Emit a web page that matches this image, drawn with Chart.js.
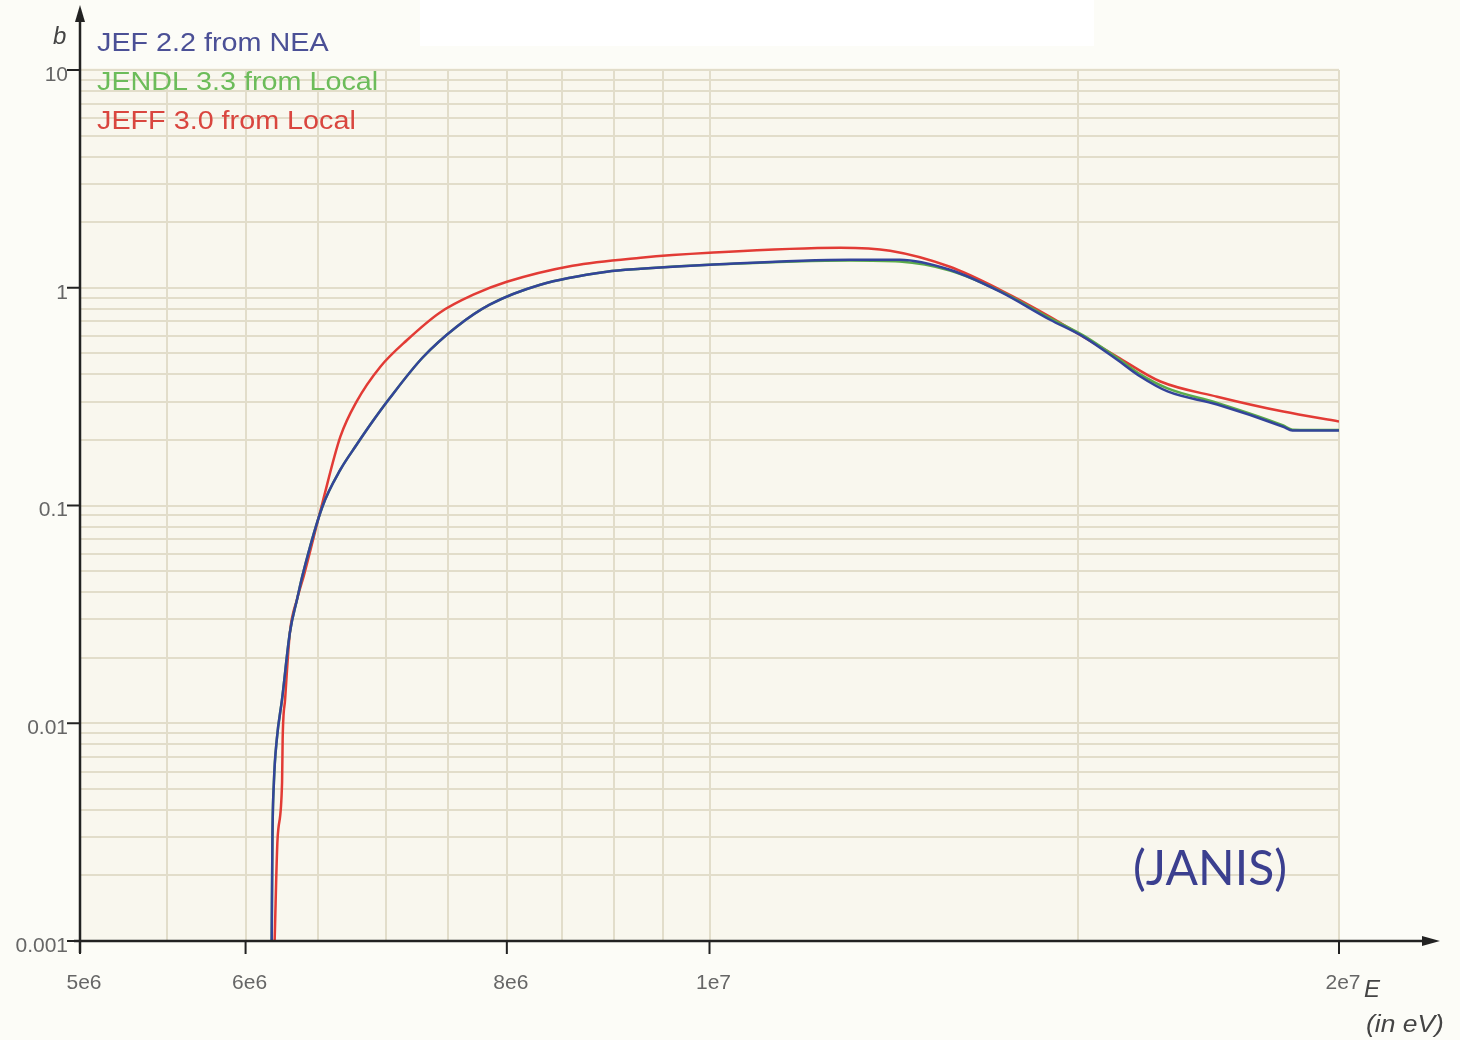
<!DOCTYPE html>
<html>
<head>
<meta charset="utf-8">
<script src="https://cdn.jsdelivr.net/npm/chart.js@4.4.1/dist/chart.umd.min.js"></script>
<style>
  body { margin: 0; background: #fcfcf7; }
  #wrap { position: relative; width: 1460px; height: 1040px; }
  #patch { position: absolute; left: 420px; top: 0; width: 674px; height: 46px; background: #ffffff; }
  #chart { position: absolute; left: 0; top: 0; }
</style>
</head>
<body>
<div id="wrap">
  <div id="patch"></div>
  <canvas id="chart" width="1460" height="1040"></canvas>
</div>
<script>
// energies (eV) and cross sections (b)
const jefE = [6.175e6, 6.18e6, 6.19e6, 6.21e6, 6.246e6, 6.30e6, 6.35e6, 6.39e6, 6.53e6, 6.66e6, 6.78e6, 6.90e6, 7.03e6,
  7.29e6, 7.57e6, 7.85e6, 8.30e6, 8.93e6, 9.27e6, 1.0e7, 1.167e7, 1.233e7, 1.303e7, 1.377e7,
  1.455e7, 1.509e7, 1.566e7, 1.607e7, 1.656e7, 1.749e7, 1.881e7, 1.90e7, 2.0e7];
const jefV = [0.001, 0.00294, 0.00536, 0.00845, 0.0129, 0.0261, 0.0371, 0.0483, 0.099, 0.146, 0.190, 0.243, 0.310,
  0.477, 0.662, 0.836, 1.032, 1.184, 1.222, 1.275, 1.344, 1.344, 1.209, 0.959,
  0.713, 0.596, 0.468, 0.391, 0.334, 0.291, 0.230, 0.221, 0.221];

const jendlE = jefE;
const jendlV = [0.001, 0.00294, 0.00536, 0.00845, 0.0129, 0.0261, 0.0371, 0.0483, 0.099, 0.146, 0.190, 0.243, 0.310,
  0.477, 0.662, 0.836, 1.032, 1.184, 1.222, 1.275, 1.335, 1.32, 1.20, 0.965,
  0.725, 0.605, 0.478, 0.40, 0.345, 0.296, 0.233, 0.223, 0.222];

const jeffE = [6.195e6, 6.215e6, 6.246e6, 6.25e6, 6.267e6, 6.30e6, 6.35e6, 6.40e6, 6.53e6, 6.66e6, 6.78e6, 6.96e6, 7.17e6,
  7.43e6, 7.71e6, 8.0e6, 8.60e6, 9.27e6, 1.0e7, 1.155e7, 1.22e7, 1.303e7, 1.377e7,
  1.455e7, 1.509e7, 1.566e7, 1.643e7, 1.749e7, 1.881e7, 2.0e7];
const jeffV = [0.001, 0.00294, 0.00536, 0.00845, 0.0129, 0.0261, 0.0371, 0.0483, 0.103, 0.207, 0.300, 0.434, 0.577,
  0.768, 0.929, 1.065, 1.262, 1.373, 1.447, 1.526, 1.478, 1.248, 0.979,
  0.736, 0.596, 0.483, 0.371, 0.316, 0.270, 0.243];

const seriesNames = ['JEF 2.2 from NEA', 'JENDL 3.3 from Local', 'JEFF 3.0 from Local'];

// grid lines and labelled ticks
const xGrid = [5e6, 5.5e6, 6e6, 6.5e6, 7e6, 7.5e6, 8e6, 8.5e6, 9e6, 9.5e6, 1e7, 1.5e7, 2e7];
const xTickLabels = { 5e6: '5e6', 6e6: '6e6', 8e6: '8e6', 1e7: '1e7', 2e7: '2e7' };
const yDecades = [0.001, 0.01, 0.1, 1, 10];
const yTickLabels = ['0.001', '0.01', '0.1', '1', '10'];
const yGrid = [];
yDecades.forEach(d => {
  for (let m = 1; m <= 9; m++) {
    if (d === 10 && m > 1) break;
    yGrid.push(+(d * m).toPrecision(3));
  }
});

function pts(E, V) {
  return E.map((e, i) => ({ x: e, y: V[i] }));
}

const decor = {
  id: 'decor',
  beforeDraw(chart) {
    const { ctx, chartArea: a } = chart;
    ctx.save();
    ctx.fillStyle = '#f9f7ee';
    ctx.fillRect(a.left, a.top - 2, a.right - a.left, a.bottom - a.top + 2);
    ctx.restore();
  },
  afterDraw(chart) {
    const { ctx, chartArea: a } = chart;
    const xs = chart.scales.x, ys = chart.scales.y;
    ctx.save();
    ctx.strokeStyle = '#222';
    ctx.fillStyle = '#222';
    ctx.lineWidth = 2.5;

    // axes with arrows
    ctx.beginPath();
    ctx.moveTo(a.left, a.bottom + 12);
    ctx.lineTo(a.left, 16);
    ctx.moveTo(a.left - 6, a.bottom);
    ctx.lineTo(1428, a.bottom);
    ctx.stroke();
    ctx.beginPath();
    ctx.moveTo(a.left, 5); ctx.lineTo(a.left - 5, 22); ctx.lineTo(a.left + 5, 22); ctx.closePath();
    ctx.fill();
    ctx.beginPath();
    ctx.moveTo(1440, a.bottom); ctx.lineTo(1422, a.bottom - 5); ctx.lineTo(1422, a.bottom + 5); ctx.closePath();
    ctx.fill();

    // tick marks
    ctx.lineWidth = 2;
    ctx.beginPath();
    yDecades.forEach(v => {
      const y = ys.getPixelForValue(v);
      ctx.moveTo(a.left - 13, y); ctx.lineTo(a.left, y);
    });
    Object.keys(xTickLabels).forEach(v => {
      const x = xs.getPixelForValue(+v);
      ctx.moveTo(x, a.bottom); ctx.lineTo(x, a.bottom + 13);
    });
    ctx.stroke();

    // legend (text is a bit wide in the original)
    const cols = ['#4b5096', '#6cbc5a', '#d9463f'];
    ctx.font = '25px "Liberation Sans", Arial, sans-serif';
    ctx.textBaseline = 'middle';
    ctx.textAlign = 'left';
    seriesNames.forEach((n, i) => {
      ctx.save();
      ctx.translate(97, 44 + i * 39);
      ctx.scale(1.15, 1);
      ctx.fillStyle = cols[i];
      ctx.fillText(n, 0, 0);
      ctx.restore();
    });

    // axis titles
    ctx.fillStyle = '#444';
    ctx.font = 'italic 24px "Liberation Sans", Arial, sans-serif';
    ctx.fillText('b', 53, 37);
    ctx.fillText('E', 1364, 990);
    ctx.save();
    ctx.translate(1366, 1026);
    ctx.scale(1.15, 1);
    ctx.font = 'italic 23px "Liberation Sans", Arial, sans-serif';
    ctx.fillText('(in eV)', 0, 0);
    ctx.restore();

    // source tag
    ctx.fillStyle = '#3b3f8f';
    ctx.font = '48px Lato, "Open Sans", sans-serif';
    ctx.textAlign = 'center';
    ctx.fillText('(JANIS)', 1210, 870);
    ctx.restore();
  }
};

const ctx = document.getElementById('chart').getContext('2d');

new Chart(ctx, {
  type: 'line',
  data: {
    datasets: [
      { label: seriesNames[0], data: pts(jefE, jefV), borderColor: '#33449a' },
      { label: seriesNames[1], data: pts(jendlE, jendlV), borderColor: '#5aaa4a' },
      { label: seriesNames[2], data: pts(jeffE, jeffV), borderColor: '#e23b35' }
    ]
  },
  options: {
    responsive: false,
    animation: false,
    devicePixelRatio: 1,
    events: [],
    layout: { padding: { top: 70, right: 121, left: 0, bottom: 0 } },
    elements: {
      line: { borderWidth: 2.5, cubicInterpolationMode: 'monotone' },
      point: { radius: 0 }
    },
    plugins: {
      legend: { display: false },
      tooltip: { enabled: false }
    },
    scales: {
      x: {
        type: 'logarithmic',
        min: 5e6,
        max: 2e7,
        afterBuildTicks: s => { s.ticks = xGrid.map(v => ({ value: v })); },
        afterFit: s => { s.height = 99; },
        border: { display: false },
        grid: { color: '#e2ddca', lineWidth: 2, drawTicks: false },
        ticks: {
          autoSkip: false,
          maxRotation: 0,
          padding: 30,
          labelOffset: 4,
          color: '#666',
          font: { family: '"Liberation Sans", Arial, sans-serif', size: 21 },
          callback: v => xTickLabels[v] || ''
        }
      },
      y: {
        type: 'logarithmic',
        min: 0.001,
        max: 10,
        afterBuildTicks: s => { s.ticks = yGrid.map(v => ({ value: v })); },
        afterFit: s => { s.width = 80; },
        border: { display: false },
        grid: { color: '#e2ddca', lineWidth: 2, drawTicks: false },
        ticks: {
          autoSkip: false,
          padding: 12,
          labelOffset: 5,
          color: '#666',
          font: { family: '"Liberation Sans", Arial, sans-serif', size: 21 },
          callback: v => {
            const i = yDecades.findIndex(d => Math.abs(d - v) / d < 1e-6);
            return i >= 0 ? yTickLabels[i] : '';
          }
        }
      }
    }
  },
  plugins: [decor]
});
</script>
</body>
</html>
